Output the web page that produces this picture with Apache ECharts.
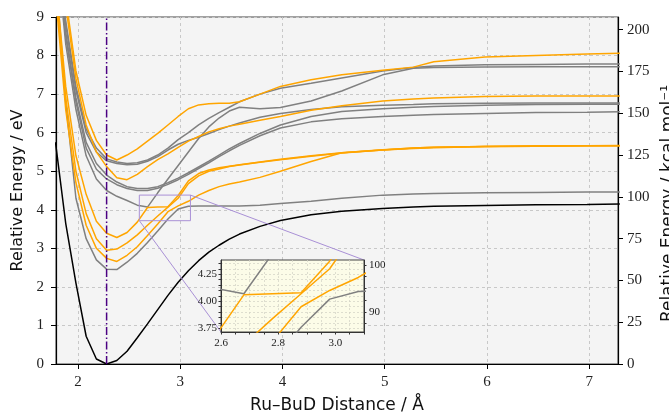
<!DOCTYPE html>
<html>
<head>
<meta charset="utf-8">
<script src="https://cdn.jsdelivr.net/npm/echarts@6/dist/echarts.min.js"></script>
<style>html,body{margin:0;padding:0;background:#fff;}#c{width:669px;height:415px;}</style>
</head>
<body>
<div id="c"></div>
<script>
// ---- data (Å, eV) ----
const distances = [1.78, 1.88, 1.98, 2.08, 2.18, 2.28, 2.38, 2.48, 2.58, 2.68, 2.78, 2.88, 2.98, 3.08, 3.18, 3.28, 3.38, 3.48, 3.58, 3.78, 3.98, 4.28, 4.58, 4.98, 5.28, 5.48, 5.98, 6.48, 6.98, 7.3];
const groundState = [5.75, 3.65, 2.10, 0.72, 0.13, 0.00, 0.09, 0.33, 0.68, 1.04, 1.41, 1.78, 2.12, 2.42, 2.68, 2.90, 3.08, 3.24, 3.37, 3.57, 3.72, 3.87, 3.96, 4.03, 4.07, 4.09, 4.11, 4.13, 4.14, 4.15];
const grayA  = [10.2, 6.8, 4.3, 3.25, 2.70, 2.46, 2.45, 2.64, 2.87, 3.15, 3.45, 3.76, 4.02, 4.09, 4.10, 4.10, 4.10, 4.10, 4.10, 4.12, 4.16, 4.22, 4.30, 4.38, 4.41, 4.42, 4.44, 4.45, 4.46, 4.46];
const grayS  = [11.0, 8.3, 6.6, 5.4, 4.8, 4.50, 4.35, 4.24, 4.12, 4.07, 4.44, 4.80, 5.15, 5.50, 5.85, 6.15, 6.38, 6.56, 6.66, 6.62, 6.65, 6.82, 7.08, 7.50, 7.67, 7.69, 7.70, 7.71, 7.71, 7.71];
const grayD2 = [11.3, 8.5, 6.8, 5.6, 5.05, 4.80, 4.65, 4.55, 4.50, 4.50, 4.56, 4.66, 4.78, 4.92, 5.07, 5.22, 5.38, 5.53, 5.67, 5.92, 6.12, 6.28, 6.36, 6.42, 6.45, 6.47, 6.50, 6.52, 6.53, 6.54];
const grayD1 = [11.5, 8.6, 6.9, 5.75, 5.2, 4.90, 4.72, 4.60, 4.55, 4.55, 4.60, 4.70, 4.82, 4.96, 5.11, 5.26, 5.42, 5.58, 5.72, 5.98, 6.20, 6.42, 6.55, 6.62, 6.66, 6.68, 6.71, 6.73, 6.74, 6.74];
const grayF2 = [11.8, 8.8, 7.1, 6.0, 5.5, 5.27, 5.20, 5.17, 5.18, 5.26, 5.38, 5.55, 5.70, 5.80, 5.88, 5.98, 6.08, 6.17, 6.25, 6.40, 6.50, 6.60, 6.67, 6.71, 6.73, 6.75, 6.76, 6.77, 6.77, 6.77];
const grayF1 = [12.0, 8.9, 7.2, 6.1, 5.6, 5.32, 5.24, 5.20, 5.22, 5.29, 5.42, 5.60, 5.82, 6.00, 6.20, 6.37, 6.52, 6.66, 6.80, 7.00, 7.15, 7.28, 7.42, 7.60, 7.69, 7.73, 7.76, 7.77, 7.78, 7.78];
const orangeG  = [12.8, 9.5, 7.6, 6.45, 5.8, 5.42, 5.29, 5.42, 5.58, 5.78, 5.98, 6.20, 6.42, 6.62, 6.72, 6.75, 6.76, 6.76, 6.80, 7.00, 7.20, 7.37, 7.50, 7.62, 7.70, 7.84, 7.96, 8.00, 8.04, 8.06];
const orangeE  = [12.5, 9.3, 7.4, 6.2, 5.5, 5.12, 4.83, 4.78, 4.92, 5.12, 5.30, 5.45, 5.62, 5.78, 5.90, 6.02, 6.10, 6.17, 6.22, 6.32, 6.42, 6.58, 6.70, 6.82, 6.87, 6.90, 6.94, 6.95, 6.95, 6.95];
const orangeB3 = [10.0, 7.2, 5.4, 4.4, 3.7, 3.39, 3.28, 3.41, 3.68, 4.06, 4.07, 4.08, 4.37, 4.75, 4.94, 5.03, 5.09, 5.13, 5.17, 5.24, 5.31, 5.40, 5.48, 5.56, 5.60, 5.62, 5.64, 5.66, 5.66, 5.67];
const orangeB4 = [9.8, 6.9, 5.0, 3.9, 3.25, 2.95, 2.98, 3.14, 3.35, 3.60, 3.84, 4.07, 4.30, 4.68, 4.88, 5.00, 5.06, 5.12, 5.16, 5.23, 5.30, 5.39, 5.47, 5.55, 5.59, 5.61, 5.64, 5.65, 5.66, 5.66];
const orangeB5 = [9.6, 6.6, 4.7, 3.6, 3.0, 2.74, 2.66, 2.82, 3.04, 3.33, 3.63, 3.95, 4.10, 4.22, 4.38, 4.50, 4.60, 4.67, 4.72, 4.84, 5.00, 5.25, 5.48, 5.55, 5.60, 5.62, 5.64, 5.65, 5.66, 5.66];
const equilibriumDistance = 2.28;
const kcalPerEV = 23.0605;

// ---- axes / ticks ----
const xRange = [1.785, 7.282];
const yRange = [0, 9];
const xTickValues = [2, 3, 4, 5, 6, 7];
const kcalTickValues = [0, 25, 50, 75, 100, 125, 150, 175, 200];
const insetXRange = [2.6, 3.1];
const insetYRange = [3.717, 4.381];
const insetXLabels = [2.6, 2.8, 3.0];
const insetXTicks = [2.6, 2.65, 2.7, 2.75, 2.8, 2.85, 2.9, 2.95, 3.0, 3.05, 3.1];
const insetYLabels = [3.75, 4.00, 4.25];
const insetYTicks = [3.75, 3.8, 3.85, 3.9, 3.95, 4.0, 4.05, 4.1, 4.15, 4.2, 4.25, 4.3, 4.35];
const insetKcalLabels = [90, 100];
const insetKcalTicks = [87.5, 90, 92.5, 95, 97.5, 100];

const ORANGE = '#ffa500', GRAY = '#808080';
const curves = [
  {vals: grayA, color: GRAY}, {vals: grayS, color: GRAY}, {vals: grayD2, color: GRAY},
  {vals: grayD1, color: GRAY}, {vals: grayF2, color: GRAY}, {vals: grayF1, color: GRAY},
  {vals: orangeB5, color: ORANGE}, {vals: orangeB4, color: ORANGE}, {vals: orangeB3, color: ORANGE},
  {vals: orangeE, color: ORANGE}, {vals: orangeG, color: ORANGE},
  {vals: groundState, color: '#000000'}
];
const pts = v => distances.map((x, i) => [x, v[i]]);

const serif = 'Liberation Serif';
const sans = 'DejaVu Sans';
const series = [];
curves.forEach(c => {
  series.push({type: 'line', xAxisIndex: 0, yAxisIndex: 0, data: pts(c.vals), symbol: 'none',
    lineStyle: {color: c.color, width: 1.5}, z: 2, silent: true});
});
series.push({type: 'line', xAxisIndex: 0, yAxisIndex: 0, symbol: 'none', z: 3, silent: true,
  data: [[equilibriumDistance, yRange[0]], [equilibriumDistance, yRange[1]]],
  lineStyle: {color: '#4b0082', width: 1.5, type: [8, 2.5, 1.5, 2.5]}});
curves.forEach(c => {
  series.push({type: 'line', xAxisIndex: 1, yAxisIndex: 2, data: pts(c.vals), symbol: 'none',
    lineStyle: {color: c.color, width: 1.5}, z: 7, silent: true, clip: true});
});

const chart = echarts.init(document.getElementById('c'), null, {renderer: 'canvas'});
chart.setOption({
  animation: false,
  grid: [
    {left: 56, top: 17, right: 51, bottom: 51, show: true, backgroundColor: '#f4f4f4', borderColor: '#444', borderWidth: 1,
      containLabel: false, outerBoundsMode: 'none'},
    {left: 221, top: 260, width: 143, height: 72, show: true, backgroundColor: '#fcfce8', borderColor: '#444', borderWidth: 1, z: 5,
      containLabel: false, outerBoundsMode: 'none'}
  ],
  xAxis: [
    {gridIndex: 0, type: 'value', min: xRange[0], max: xRange[1],
      axisLine: {onZero: false, lineStyle: {color: '#000', width: 1.2}},
      axisTick: {customValues: xTickValues, length: 5, lineStyle: {color: '#000'}},
      axisLabel: {customValues: xTickValues, color: '#222', fontFamily: serif, fontSize: 15, margin: 11},
      splitLine: {show: true, lineStyle: {color: '#c8c8c8', type: [3, 3], width: 1}},
      name: 'Ru–BuD Distance / Å', nameLocation: 'middle', nameGap: 33,
      nameTextStyle: {fontFamily: sans, fontSize: 17, color: '#111'}},
    {gridIndex: 1, type: 'value', min: insetXRange[0], max: insetXRange[1], z: 6,
      axisLine: {onZero: false, lineStyle: {color: '#333', width: 1}},
      axisTick: {customValues: insetXTicks, length: 2.5, lineStyle: {color: '#333'}},
      axisLabel: {customValues: insetXLabels, formatter: v => v.toFixed(1), color: '#222', fontFamily: serif, fontSize: 11, margin: 6},
      splitLine: {show: true, lineStyle: {color: '#d6d6c8', type: [2, 2], width: 0.8}}}
  ],
  yAxis: [
    {gridIndex: 0, type: 'value', min: yRange[0], max: yRange[1], interval: 1,
      axisLine: {show: true, onZero: false, lineStyle: {color: '#000', width: 1.2}},
      axisTick: {show: true, length: 5, lineStyle: {color: '#000'}},
      axisLabel: {color: '#222', fontFamily: serif, fontSize: 15, margin: 12},
      splitLine: {show: true, lineStyle: {color: '#c8c8c8', type: [3, 3], width: 1}},
      name: 'Relative Energy / eV', nameLocation: 'middle', nameGap: 28, nameRotate: 90,
      nameTextStyle: {fontFamily: sans, fontSize: 16, color: '#111'}},
    {gridIndex: 0, type: 'value', position: 'right', min: yRange[0] * kcalPerEV, max: yRange[1] * kcalPerEV,
      axisLine: {show: true, onZero: false, lineStyle: {color: '#000', width: 1.2}},
      axisTick: {show: true, customValues: kcalTickValues, length: 5, lineStyle: {color: '#000'}},
      axisLabel: {customValues: kcalTickValues, color: '#222', fontFamily: serif, fontSize: 15, margin: 9},
      splitLine: {show: false},
      name: 'Relative Energy / kcal mol⁻¹', nameLocation: 'middle', nameGap: 33, nameRotate: 90,
      nameTextStyle: {fontFamily: sans, fontSize: 17, color: '#111', padding: [0, 26, 0, 0]}},
    {gridIndex: 1, type: 'value', min: insetYRange[0], max: insetYRange[1], z: 6,
      axisLine: {show: true, onZero: false, lineStyle: {color: '#333', width: 1}},
      axisTick: {show: true, customValues: insetYTicks, length: 2.5, lineStyle: {color: '#333'}},
      axisLabel: {customValues: insetYLabels, formatter: v => v.toFixed(2), color: '#222', fontFamily: serif, fontSize: 11, margin: 4},
      splitLine: {show: true, lineStyle: {color: '#d6d6c8', type: [2, 2], width: 0.8}}},
    {gridIndex: 1, type: 'value', position: 'right', min: insetYRange[0] * kcalPerEV, max: insetYRange[1] * kcalPerEV, z: 6,
      axisLine: {show: true, onZero: false, lineStyle: {color: '#333', width: 1}},
      axisTick: {show: true, customValues: insetKcalTicks, length: 2.5, lineStyle: {color: '#333'}},
      axisLabel: {customValues: insetKcalLabels, color: '#222', fontFamily: serif, fontSize: 11, margin: 5},
      splitLine: {show: false}}
  ],
  series: series
});

// zoom rectangle and connector lines, positioned from data coordinates
const bl = chart.convertToPixel({xAxisIndex: 0, yAxisIndex: 0}, [insetXRange[0], insetYRange[0]]);
const tr = chart.convertToPixel({xAxisIndex: 0, yAxisIndex: 0}, [insetXRange[1], insetYRange[1]]);
const ibl = chart.convertToPixel({xAxisIndex: 1, yAxisIndex: 2}, [insetXRange[0], insetYRange[0]]);
const itr = chart.convertToPixel({xAxisIndex: 1, yAxisIndex: 2}, [insetXRange[1], insetYRange[1]]);
const PURPLE = '#a990d6';
chart.setOption({
  graphic: [
    {type: 'rect', z: 4, silent: true, shape: {x: bl[0], y: tr[1], width: tr[0] - bl[0], height: bl[1] - tr[1]},
      style: {fill: null, stroke: PURPLE, lineWidth: 1}},
    {type: 'line', z: 4, silent: true, shape: {x1: bl[0], y1: bl[1], x2: ibl[0], y2: ibl[1]}, style: {stroke: PURPLE, lineWidth: 1}},
    {type: 'line', z: 4, silent: true, shape: {x1: tr[0], y1: tr[1], x2: itr[0], y2: itr[1]}, style: {stroke: PURPLE, lineWidth: 1}}
  ]
});
</script>
</body>
</html>
